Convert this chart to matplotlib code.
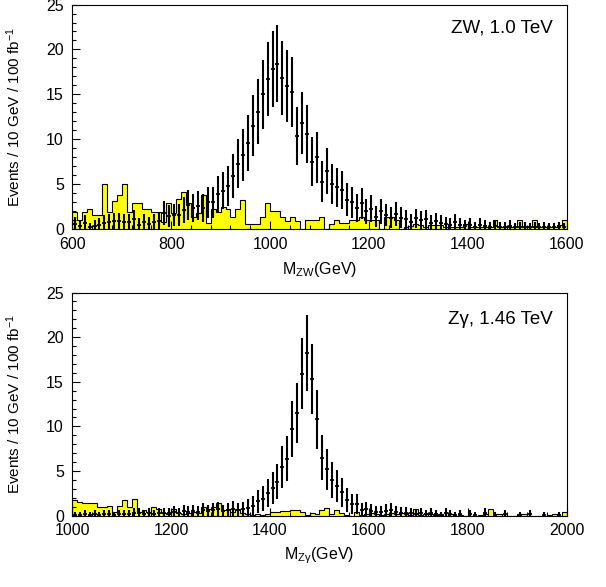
import matplotlib
matplotlib.use("Agg")
import matplotlib.pyplot as plt
import numpy as np
from matplotlib.ticker import MultipleLocator

plt.rcParams['font.family'] = ['Liberation Sans', 'DejaVu Sans']
plt.rcParams['mathtext.fontset'] = 'custom'
plt.rcParams['mathtext.rm'] = 'Liberation Sans'
plt.rcParams['mathtext.it'] = 'Liberation Sans:italic'

# --- ZW, 1.0 TeV : 10 GeV bins from 600 to 1600 ---
zw_edges = np.arange(600, 1601, 10)
zw_signal = [
    0.6, 0.4, 0.7, 0.2, 0.4, 0.5, 0.7, 0.8, 0.9, 0.9,
    0.8, 0.8, 1.1, 0.5, 0.8, 0.6, 0.8, 0.9, 1.8, 1.5,
    1.6, 1.6, 2.1, 2.7, 2.4, 2.6, 2.4, 3.0, 3.0, 3.9,
    4.3, 4.8, 5.9, 7.3, 8.3, 9.6, 11.5, 13.1, 15.0, 16.7,
    17.8, 18.4, 16.8, 15.9, 15.3, 10.4, 11.8, 10.6, 7.5, 8.0,
    5.3, 6.5, 5.0, 4.7, 4.4, 3.3, 3.0, 2.4, 2.9, 2.0,
    2.3, 1.4, 2.0, 1.6, 1.3, 1.7, 1.3, 1.1, 0.8, 1.2,
    1.0, 1.1, 0.7, 0.9, 0.7, 0.6, 0.5, 0.8, 0.5, 0.4,
    0.5, 0.3, 0.5, 0.4, 0.3, 0.4, 0.3, 0.3, 0.4, 0.2,
    0.3, 0.3, 0.2, 0.3, 0.2, 0.3, 0.2, 0.2, 0.3, 0.2,
]
zw_background = [
    1.9, 1.0, 1.9, 2.3, 1.6, 1.6, 5.0, 1.9, 3.2, 3.8,
    5.0, 1.9, 2.9, 2.9, 2.3, 2.3, 1.9, 1.9, 0.8, 2.9,
    1.8, 3.4, 4.2, 2.9, 1.4, 1.8, 3.8, 0.7, 2.3, 1.9,
    2.5, 2.3, 1.4, 2.3, 3.3, 0.6, 0.6, 0.6, 1.4, 2.9,
    2.0, 2.0, 1.4, 0.9, 1.4, 0.9, 0.0, 1.0, 1.0, 1.0,
    1.4, 0.0, 0.6, 1.0, 0.7, 0.7, 1.0, 1.0, 1.4, 1.0,
    1.0, 1.0, 0.0, 1.4, 1.4, 1.0, 0.0, 0.3, 0.4, 0.6,
    0.5, 0.3, 0.5, 0.5, 0.5, 0.3, 0.2, 0.3, 0.3, 0.6,
    0.3, 0.2, 0.2, 0.3, 0.2, 1.0, 0.3, 0.2, 0.3, 0.2,
    1.0, 0.2, 0.3, 1.0, 0.3, 0.2, 0.3, 0.2, 0.5, 1.0,
]

# --- Z gamma, 1.46 TeV : 10 GeV bins from 1000 to 2000 ---
za_edges = np.arange(1000, 2001, 10)
za_signal = [
    0.1, 0.1, 0.2, 0.1, 0.2, 0.1, 0.2, 0.2, 0.1, 0.2,
    0.2, 0.2, 0.3, 0.3, 0.2, 0.3, 0.2, 0.3, 0.3, 0.3,
    0.4, 0.3, 0.5, 0.4, 0.5, 0.4, 0.6, 0.5, 0.6, 0.7,
    0.5, 0.6, 0.8, 0.6, 0.7, 0.9, 1.1, 1.6, 1.9, 2.5,
    3.1, 3.8, 5.5, 6.4, 9.7, 11.5, 15.9, 18.2, 15.3, 10.8,
    6.5, 5.2, 4.0, 3.3, 2.6, 1.8, 1.3, 1.3, 0.6, 0.7,
    0.55, 0.45, 0.45, 0.55, 0.6, 0.45, 0.35, 0.35, 0.3, 0.2,
    0.3, 0.2, 0.3, 0.2, 0.1, 0.3, 0.2, 0.1, 0.2, 0.0,
    0.2, 0.1, 0.0, 0.3, 0.0, 0.1, 0.0, 0.2, 0.0, 0.0,
    0.1, 0.0, 0.2, 0.0, 0.0, 0.1, 0.0, 0.0, 0.1, 0.0,
]
za_background = [
    1.75, 1.55, 1.45, 1.4, 1.4, 0.95, 0.95, 1.1, 0.45, 1.1,
    1.75, 0.95, 1.85, 0.45, 0.6, 0.45, 0.95, 0.7, 0.35, 0.2,
    0.7, 0.35, 0.2, 0.35, 0.45, 0.25, 0.95, 0.7, 0.95, 1.4,
    0.6, 0.7, 0.45, 0.8, 0.25, 0.2, 0.1, 0.2, 0.1, 0.2,
    0.4, 0.45, 0.5, 0.5, 0.6, 0.6, 0.4, 0.1, 0.3, 0.2,
    0.6, 0.9, 0.2, 0.6, 0.25, 0.1, 0.0, 0.45, 0.1, 0.2,
    0.3, 0.2, 0.1, 0.2, 0.3, 0.2, 0.3, 0.2, 0.1, 0.8,
    0.1, 0.2, 0.2, 0.1, 0.2, 0.0, 0.2, 0.0, 0.1, 0.0,
    0.0, 0.0, 0.1, 0.2, 0.8, 0.2, 0.2, 0.0, 0.0, 0.0,
    0.2, 0.2, 0.0, 0.0, 0.0, 0.0, 0.1, 0.2, 0.0, 0.45,
]

panels = [
    (zw_edges, zw_signal, zw_background, 'ZW, 1.0 TeV', r'M$_{\mathrm{ZW}}$(GeV)', 0.895),
    (za_edges, za_signal, za_background, 'Zγ, 1.46 TeV', r'M$_{\mathrm{Zγ}}$(GeV)', 0.877),
]

fig = plt.figure(figsize=(6.06, 5.87), dpi=100)
rects = [[0.1193, 0.6094, 0.8158, 0.3829], [0.1193, 0.1215, 0.8158, 0.3802]]

for rect, (edges, sig, bkg, tag, xlab, ty) in zip(rects, panels):
    ax = fig.add_axes(rect)
    sig = np.array(sig)
    bkg = np.array(bkg)
    centers = 0.5 * (edges[:-1] + edges[1:])

    # background histogram: yellow fill with black outline
    ax.stairs(bkg, edges, fill=True, facecolor='#ffff00', edgecolor='none', zorder=1)
    ax.stairs(bkg, edges, baseline=0, color='black', lw=0.8, zorder=2)

    # signal points with Poisson error bars (empty bins not drawn)
    keep = sig > 0
    ax.errorbar(centers[keep], sig[keep], yerr=np.sqrt(sig[keep]), fmt='_',
                color='black', ms=3.5, mew=1.3, elinewidth=1.5, capsize=0, zorder=3)

    ax.set_xlim(edges[0], edges[-1])
    ax.set_ylim(0, 25)
    ax.xaxis.set_major_locator(MultipleLocator(200))
    ax.xaxis.set_minor_locator(MultipleLocator(40))
    ax.yaxis.set_major_locator(MultipleLocator(5))
    ax.yaxis.set_minor_locator(MultipleLocator(1))
    ax.tick_params(which='both', direction='in', top=False, right=False, labelsize=11.5)
    ax.tick_params(which='major', length=6, width=0.8)
    ax.tick_params(which='minor', length=3, width=0.8)
    ax.tick_params(axis='x', pad=5.5)
    ax.tick_params(axis='y', pad=6)
    for s in ax.spines.values():
        s.set_linewidth(0.8)

    ax.set_ylabel(r'Events / 10 GeV / 100 fb$^{-1}$', fontsize=11)
    ax.yaxis.set_label_coords(-0.10, 0.5)
    ax.set_xlabel(xlab, fontsize=11.5)
    ax.xaxis.set_label_coords(0.5, -0.135)
    ax.text(0.972, ty, tag, transform=ax.transAxes, ha='right', va='center', fontsize=13.5)

fig.savefig('out.png', dpi=100)
